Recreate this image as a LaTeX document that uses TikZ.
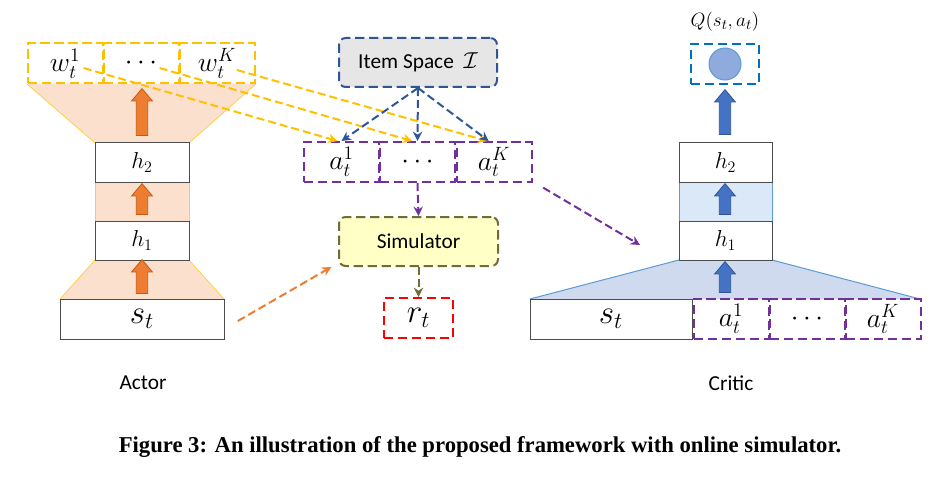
\documentclass[tikz,border=0pt]{standalone}
\usepackage{fontspec}
\newfontfamily\calibri{Carlito}
\newfontfamily\capserif{Liberation Serif}
\usetikzlibrary{shapes.arrows,arrows.meta}
\definecolor{gold}{HTML}{FFC000}
\definecolor{peach}{HTML}{FBE0CD}
\definecolor{arrorange}{HTML}{ED7D31}
\definecolor{arredge}{HTML}{C55A11}
\definecolor{actpurple}{HTML}{7030A0}
\definecolor{itemblue}{HTML}{2F5597}
\definecolor{itemgray}{HTML}{E7E6E6}
\definecolor{simolive}{HTML}{6F6B3A}
\definecolor{simyellow}{HTML}{FFFFC6}
\definecolor{qblue}{HTML}{0070C0}
\definecolor{qfill}{HTML}{8FAADC}
\definecolor{lightblue}{HTML}{DAE8F7}
\definecolor{trapblue}{HTML}{D0DAEE}
\definecolor{edgeblue}{HTML}{5B9BD5}
\definecolor{arrblue}{HTML}{4472C4}
\definecolor{arrblueedge}{HTML}{2F5597}
\begin{document}
\begin{tikzpicture}[x=0.75pt,y=-0.75pt,
  layer/.style={draw=black!70,line width=0.75pt,fill=white,minimum width=70.5pt,minimum height=29.25pt,inner sep=0pt,font=\fontsize{17}{20}\selectfont},
  dbox/.style={dash pattern=on 7pt off 3.5pt,line width=1.5pt,minimum width=56.25pt,minimum height=30pt,inner sep=0pt,font=\fontsize{21}{25}\selectfont},
  fatarrow/.style={single arrow,shape border rotate=90,inner xsep=4pt,inner ysep=0pt,single arrow head extend=3.5pt,single arrow tip angle=80,line width=0.6pt},
  link/.style={dash pattern=on 6pt off 3pt,line width=1.5pt,-{Stealth[length=7pt,width=7pt]}}]
\useasboundingbox (0,0) rectangle (947,478);

% actor
\fill[peach] (27,84)--(256,84)--(189,143)--(95,143)--cycle;
\draw[gold!80,line width=0.5pt] (27,84)--(95,143) (256,84)--(189,143);
\fill[peach] (95,182) rectangle (189,221);
\draw[gold!80,line width=0.5pt] (95,182)--(95,221) (189,182)--(189,221);
\fill[peach] (95,260)--(189,260)--(224,299)--(60,299)--cycle;
\draw[gold!80,line width=0.5pt] (95,260)--(60,299) (189,260)--(224,299);
\node[layer] (h2) at (142,162.5) {$h_2$};
\node[layer] (h1) at (142,240.5) {$h_1$};
\node[layer,minimum width=123pt,minimum height=30pt,font=\fontsize{24}{28}\selectfont] (st) at (142,319) {$s_t$};
\node[dbox,draw=gold] (w1) at (65,63.5) {$w_t^1$};
\node[dbox,draw=gold] (w2) at (141,63.5) {$\cdots$};
\node[dbox,draw=gold] (wK) at (217,63.5) {$w_t^K$};
\node[fatarrow,draw=arredge,fill=arrorange,minimum height=35.25pt] (ar3) at (142,115.5) {};
\node[fatarrow,draw=arredge,fill=arrorange,minimum height=23.25pt] (ar2) at (142,202.5) {};
\node[fatarrow,draw=arredge,fill=arrorange,minimum height=25.5pt] (ar1) at (142,280) {};
\node[font=\calibri\fontsize{16}{19}\selectfont] (actor) at (143,383) {Actor};

% item space, actions, simulator
\node[dbox,draw=itemblue,fill=itemgray,rounded corners=5pt,minimum width=118.5pt,minimum height=36.75pt,font=\calibri\fontsize{16}{19}\selectfont] (item) at (418,62.5) {Item Space~~$\mathcal{I}$};
\node[dbox,draw=actpurple] (a1) at (341.5,162) {$a_t^1$};
\node[dbox,draw=actpurple] (a2) at (417.5,162) {$\cdots$};
\node[dbox,draw=actpurple] (aK) at (494,162) {$a_t^K$};
\node[dbox,draw=simolive,fill=simyellow,rounded corners=5pt,minimum width=119.25pt,minimum height=36.75pt,font=\calibri\fontsize{16}{19}\selectfont] (sim) at (418.5,241.5) {Simulator};
\node[dbox,draw=red,minimum width=51.75pt,font=\fontsize{24}{28}\selectfont] (r) at (418.5,318) {$r_t$};

% critic
\fill[trapblue] (679,260)--(772,260)--(920,299)--(530,299)--cycle;
\draw[edgeblue,line width=0.75pt] (679,260)--(530,299) (772,260)--(920,299);
\fill[lightblue] (679,182) rectangle (772,221);
\draw[edgeblue,line width=0.75pt] (679,182)--(679,221) (772,182)--(772,221);
\node[layer,minimum width=69.75pt] (ch2) at (725.5,162.5) {$h_2$};
\node[layer,minimum width=69.75pt] (ch1) at (725.5,240.5) {$h_1$};
\node[layer,minimum width=121.5pt,minimum height=30pt,font=\fontsize{24}{28}\selectfont] (cst) at (611,319) {$s_t$};
\node[dbox,draw=actpurple] (ca1) at (731,319) {$a_t^1$};
\node[dbox,draw=actpurple] (ca2) at (807,319) {$\cdots$};
\node[dbox,draw=actpurple] (caK) at (883,319) {$a_t^K$};
\node[dbox,draw=qblue,minimum width=51pt] (qbox) at (725,64) {};
\node[circle,fill=qfill,draw=edgeblue,line width=0.75pt,minimum size=24pt,inner sep=0pt] (qval) at (725,64) {};
\node[font=\fontsize{15}{18}\selectfont] (q) at (725,22) {$Q(s_t,a_t)$};
\node[fatarrow,draw=arrblueedge,fill=arrblue,minimum height=33.75pt] (cr3) at (725,115.5) {};
\node[fatarrow,draw=arrblueedge,fill=arrblue,minimum height=23.25pt] (cr2) at (725,202.5) {};
\node[fatarrow,draw=arrblueedge,fill=arrblue,minimum height=23.25pt] (cr1) at (725,280.5) {};
\node[font=\calibri\fontsize{16}{19}\selectfont] (critic) at (731,383) {Critic};

% connectors
\draw[link,gold] ([xshift=14pt,yshift=-3.4pt]w1.center) -- ([xshift=-3pt]a1.north);
\draw[link,gold] ([xshift=14pt,yshift=-3.4pt]w2.center) -- ([xshift=-4pt]a2.north);
\draw[link,gold] ([xshift=15pt,yshift=-4.9pt]wK.center) -- ([xshift=-5pt]aK.north);
\draw[link,itemblue] (item.south) -- (a1.north);
\draw[link,itemblue] (item.south) -- (a2.north);
\draw[link,itemblue] (item.south) -- ([xshift=-4pt]aK.north);
\coordinate (cin) at (640,245);
\draw[link,actpurple] ([xshift=8pt,yshift=-3.5pt]aK.south east) -- (cin);
\draw[link,actpurple] (a2.south) -- (sim.north);
\draw[link,simolive] (sim.south) -- (r.north);
\draw[link,arrorange] ([xshift=10pt,yshift=-1.5pt]st.east) -- ([xshift=-5pt]sim.south west);

\node[font=\capserif\bfseries\fontsize{17}{20}\selectfont] (caption) at (480,447) {Figure 3: An illustration of the proposed framework with online simulator.};
\end{tikzpicture}
\end{document}
